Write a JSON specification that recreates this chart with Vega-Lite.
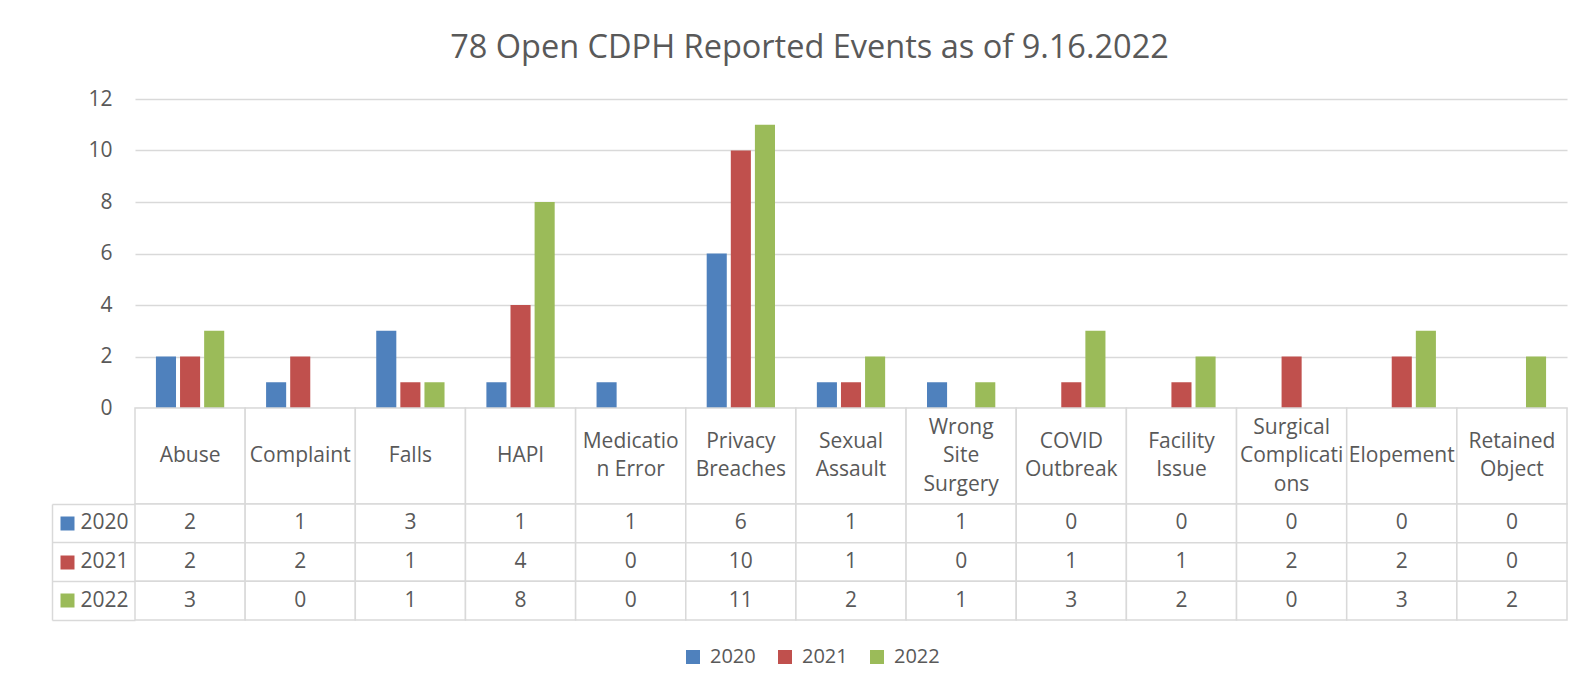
{
  "$schema": "https://vega.github.io/schema/vega-lite/v6.json",
  "background": "white",
  "padding": {"left": 51, "top": 31, "right": 0, "bottom": 30},
  "config": {"font": "Open Sans", "view": {"stroke": null}},
  "title": {"text": "78 Open CDPH Reported Events as of 9.16.2022", "anchor": "middle", "fontSize": 32.5, "fontWeight": "normal", "color": "#595959", "font": "Open Sans", "offset": 24},
  "datasets": {
    "events": [
      {"category": "Abuse", "year": "2020", "count": 2},
      {"category": "Abuse", "year": "2021", "count": 2},
      {"category": "Abuse", "year": "2022", "count": 3},
      {"category": "Complaint", "year": "2020", "count": 1},
      {"category": "Complaint", "year": "2021", "count": 2},
      {"category": "Complaint", "year": "2022", "count": 0},
      {"category": "Falls", "year": "2020", "count": 3},
      {"category": "Falls", "year": "2021", "count": 1},
      {"category": "Falls", "year": "2022", "count": 1},
      {"category": "HAPI", "year": "2020", "count": 1},
      {"category": "HAPI", "year": "2021", "count": 4},
      {"category": "HAPI", "year": "2022", "count": 8},
      {"category": "Medication Error", "year": "2020", "count": 1},
      {"category": "Medication Error", "year": "2021", "count": 0},
      {"category": "Medication Error", "year": "2022", "count": 0},
      {"category": "Privacy Breaches", "year": "2020", "count": 6},
      {"category": "Privacy Breaches", "year": "2021", "count": 10},
      {"category": "Privacy Breaches", "year": "2022", "count": 11},
      {"category": "Sexual Assault", "year": "2020", "count": 1},
      {"category": "Sexual Assault", "year": "2021", "count": 1},
      {"category": "Sexual Assault", "year": "2022", "count": 2},
      {"category": "Wrong Site Surgery", "year": "2020", "count": 1},
      {"category": "Wrong Site Surgery", "year": "2021", "count": 0},
      {"category": "Wrong Site Surgery", "year": "2022", "count": 1},
      {"category": "COVID Outbreak", "year": "2020", "count": 0},
      {"category": "COVID Outbreak", "year": "2021", "count": 1},
      {"category": "COVID Outbreak", "year": "2022", "count": 3},
      {"category": "Facility Issue", "year": "2020", "count": 0},
      {"category": "Facility Issue", "year": "2021", "count": 1},
      {"category": "Facility Issue", "year": "2022", "count": 2},
      {"category": "Surgical Complications", "year": "2020", "count": 0},
      {"category": "Surgical Complications", "year": "2021", "count": 2},
      {"category": "Surgical Complications", "year": "2022", "count": 0},
      {"category": "Elopement", "year": "2020", "count": 0},
      {"category": "Elopement", "year": "2021", "count": 2},
      {"category": "Elopement", "year": "2022", "count": 3},
      {"category": "Retained Object", "year": "2020", "count": 0},
      {"category": "Retained Object", "year": "2021", "count": 0},
      {"category": "Retained Object", "year": "2022", "count": 2}
    ],
    "cats": [
      {"category": "Abuse", "label": "Abuse"},
      {"category": "Complaint", "label": "Complaint"},
      {"category": "Falls", "label": "Falls"},
      {"category": "HAPI", "label": "HAPI"},
      {"category": "Medication Error", "label": "Medicatio\nn Error"},
      {"category": "Privacy Breaches", "label": "Privacy\nBreaches"},
      {"category": "Sexual Assault", "label": "Sexual\nAssault"},
      {"category": "Wrong Site Surgery", "label": "Wrong\nSite\nSurgery"},
      {"category": "COVID Outbreak", "label": "COVID\nOutbreak"},
      {"category": "Facility Issue", "label": "Facility\nIssue"},
      {"category": "Surgical Complications", "label": "Surgical\nComplicati\nons"},
      {"category": "Elopement", "label": "Elopement"},
      {"category": "Retained Object", "label": "Retained\nObject"}
    ]
  },
  "spacing": 0,
  "bounds": "flush",
  "vconcat": [
    {
      "width": 1432,
      "height": 309,
      "data": {"name": "events"},
      "mark": {"type": "bar"},
      "encoding": {
        "x": {"field": "category", "type": "nominal", "sort": null, "scale": {"paddingInner": 0.38, "paddingOuter": 0.19}, "axis": null},
        "xOffset": {"field": "year", "type": "nominal", "sort": null, "scale": {"paddingInner": 0.167, "paddingOuter": 0}},
        "y": {"field": "count", "type": "quantitative", "scale": {"domain": [0, 12], "nice": false},
          "axis": {"values": [0, 2, 4, 6, 8, 10, 12], "title": null, "domain": false, "ticks": false, "grid": true, "gridColor": "#d9d9d9", "gridWidth": 1.5, "labelFontSize": 21, "labelColor": "#595959", "labelPadding": 23}},
        "color": {"field": "year", "type": "nominal", "sort": null,
          "scale": {"domain": ["2020", "2021", "2022"], "range": ["#4f81bd", "#c0504d", "#9bbb59"]},
          "legend": {"title": null, "orient": "none", "legendX": 548, "legendY": 548, "direction": "horizontal", "symbolType": "square", "symbolSize": 196, "symbolStrokeWidth": 0, "labelFontSize": 20, "labelColor": "#595959", "labelOffset": 7, "columnPadding": 19, "padding": 0}}
      }
    },
    {
      "width": 1432,
      "height": 96,
      "data": {"name": "cats"},
      "encoding": {
        "x": {"field": "category", "type": "nominal", "sort": null, "scale": {"paddingInner": 0, "paddingOuter": 0}, "axis": null},
        "text": {"field": "label"}
      },
      "layer": [
        {
          "mark": {"type": "rect", "fill": "white", "stroke": "#d9d9d9", "strokeWidth": 1.5},
          "encoding": {"text": null}
        },
        {
          "transform": [{"filter": "length(split(datum.label, '\\n')) == 1"}],
          "mark": {"type": "text", "fontSize": 21, "color": "#595959", "baseline": "middle"}
        },
        {
          "transform": [{"filter": "length(split(datum.label, '\\n')) == 2"}],
          "mark": {"type": "text", "fontSize": 21, "color": "#595959", "baseline": "middle", "lineBreak": "\n", "lineHeight": 28.5, "dy": -14.25}
        },
        {
          "transform": [{"filter": "length(split(datum.label, '\\n')) == 3"}],
          "mark": {"type": "text", "fontSize": 21, "color": "#595959", "baseline": "middle", "lineBreak": "\n", "lineHeight": 28.5, "dy": -28.5}
        }
      ]
    },
    {
      "width": 1432,
      "height": 116,
      "data": {"name": "events"},
      "layer": [
        {
          "mark": {"type": "rect", "fill": "white", "stroke": "#d9d9d9", "strokeWidth": 1.5},
          "encoding": {
            "x": {"field": "category", "type": "nominal", "sort": null, "scale": {"paddingInner": 0, "paddingOuter": 0}, "axis": null},
            "y": {"field": "year", "type": "nominal", "sort": null, "scale": {"paddingInner": 0, "paddingOuter": 0},
              "axis": {"orient": "left", "title": null, "domain": false, "grid": false, "offset": 61, "ticks": true, "tickSize": 14, "tickWidth": 14,
                "tickColor": {"condition": [{"test": "datum.value === '2020'", "value": "#4f81bd"}, {"test": "datum.value === '2021'", "value": "#c0504d"}], "value": "#9bbb59"},
                "labelAlign": "left", "labelPadding": -20, "labelFontSize": 21, "labelColor": "#595959", "labelBaseline": "middle"}}
          }
        },
        {
          "mark": {"type": "text", "fontSize": 21, "color": "#595959"},
          "encoding": {
            "x": {"field": "category", "type": "nominal", "sort": null, "axis": null},
            "y": {"field": "year", "type": "nominal", "sort": null,
              "axis": {"orient": "left", "title": null, "labels": false, "grid": false, "offset": 83, "domain": true, "domainColor": "#d9d9d9", "domainWidth": 1.5, "ticks": true, "tickSize": -83, "tickWidth": 1.5, "tickColor": "#d9d9d9", "bandPosition": 1, "tickExtra": true}},
            "text": {"field": "count"}
          }
        }
      ],
      "resolve": {"axis": {"y": "independent"}}
    }
  ]
}
